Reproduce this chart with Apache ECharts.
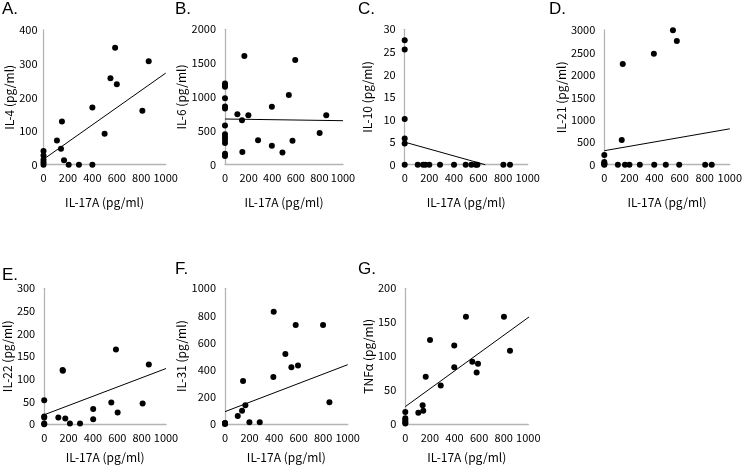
<!DOCTYPE html>
<html><head><meta charset="utf-8">
<script src="https://cdn.jsdelivr.net/npm/echarts@6/dist/echarts.min.js"></script>
<style>html,body{margin:0;padding:0;background:#fff}#c{width:745px;height:465px}</style>
</head><body><div id="c"></div>
<script>
// ---- data ----
const xTitle = 'IL-17A (pg/ml)';
const panelLetters = ['A.', 'B.', 'C.', 'D.', 'E.', 'F.', 'G.'];
const yTitles = ['IL-4 (pg/ml)', 'IL-6 (pg/ml)', 'IL-10 (pg/ml)', 'IL-21 (pg/ml)', 'IL-22 (pg/ml)', 'IL-31 (pg/ml)', 'TNFα (pg/ml)'];
const yMax = [400, 2000, 30, 3000, 300, 1000, 200];
const yStep = [100, 500, 5, 500, 50, 200, 50];

const il4X = [0, 0, 0, 0, 0, 110, 143, 151, 168, 206, 290, 400, 400, 500, 548, 586, 600, 809, 861];
const il4Y = [0, 7, 15, 27, 41, 72, 47, 128, 13, 0, 0, 170, 0, 92, 257, 347, 239, 160, 307];
const il4Trend = [[0, 16], [1000, 272]];

const il6X = [0, 0, 0, 0, 0, 0, 0, 0, 0, 0, 0, 0, 0, 105, 144, 147, 164, 198, 280, 397, 397, 487, 541, 572, 595, 802, 858];
const il6Y = [1200, 1170, 1150, 980, 860, 830, 580, 450, 410, 370, 320, 160, 130, 744, 655, 187, 1606, 729, 360, 857, 281, 182, 1030, 355, 1547, 468, 729];
const il6Trend = [[0, 675], [1000, 650]];

const il10X = [0, 0, 0, 0, 0, 0, 106, 149, 168, 200, 287, 401, 496, 542, 577, 591, 802, 856];
const il10Y = [27.6, 25.5, 10.1, 5.8, 4.7, 0, 0, 0, 0, 0, 0, 0, 0, 0, 0, 0, 0, 0];
const il10Trend = [[0, 5.0], [655, 0]];

const il21X = [0, 0, 0, 0, 0, 139, 147, 395, 547, 578, 108, 165, 200, 283, 398, 490, 597, 804, 856];
const il21Y = [216, 60, 30, 10, 0, 550, 2243, 2472, 2993, 2755, 0, 0, 0, 0, 0, 0, 0, 0, 0];
const il21Trend = [[0, 312], [1000, 799]];

const il22X = [0, 0, 0, 0, 0, 116, 151, 153, 173, 211, 294, 402, 402, 551, 589, 603, 808, 859];
const il22Y = [53, 17, 15, 2, 0, 15, 120, 118, 13, 2, 2, 34, 11, 48, 165, 26, 46, 132];
const il22Trend = [[0, 21], [1000, 123]];

const il31X = [0, 0, 0, 0, 104, 139, 147, 166, 199, 283, 394, 397, 492, 541, 576, 595, 799, 851];
const il31Y = [5, 8, 3, 0, 59, 98, 317, 138, 12, 12, 346, 828, 516, 418, 730, 432, 730, 160];
const il31Trend = [[0, 91], [1000, 437]];

const tnfX = [0, 0, 0, 0, 0, 106, 141, 146, 166, 201, 288, 398, 398, 493, 545, 580, 591, 802, 851];
const tnfY = [18, 9, 6, 3, 1, 17, 28, 20, 70, 124, 57, 116, 84, 158, 92, 76, 89, 158, 108];
const tnfTrend = [[0, 26], [1068, 166]];

const allX = [il4X, il6X, il10X, il21X, il22X, il31X, tnfX];
const allY = [il4Y, il6Y, il10Y, il21Y, il22Y, il31Y, tnfY];
const allTrend = [il4Trend, il6Trend, il10Trend, il21Trend, il22Trend, il31Trend, tnfTrend];

// ---- layout ----
const grids = [
  {left: 43.5, top: 30, width: 122.2, height: 134.7},
  {left: 225, top: 29.3, width: 118, height: 135.4},
  {left: 404.7, top: 29.3, width: 123, height: 135.4},
  {left: 604.3, top: 30, width: 127.4, height: 134.7},
  {left: 42.7, top: 288.3, width: 123.3, height: 136},
  {left: 225, top: 288.3, width: 122.7, height: 135.7},
  {left: 405.3, top: 288.3, width: 123, height: 136}
];
const yNameGap = [20, 38, 31, 36, 25, 36, 30];
const yLabelMargin = [6, 9, 9, 9, 9, 9, 9];
const xNameGap = [32, 32, 32, 32, 27, 27, 27];
const letterPos = [[2, 1], [175, 1], [358, 1], [549, 1], [2, 267], [175, 261], [358, 261]];

const FONT = '"Noto Sans CJK JP", "Noto Sans", sans-serif';
const axisLineStyle = {color: '#b4b4b4', width: 1.3};

const option = {
  animation: false,
  backgroundColor: '#fff',
  title: panelLetters.map((t, i) => ({
    text: t, left: letterPos[i][0], top: letterPos[i][1], padding: 0,
    textStyle: {fontFamily: '"Liberation Sans", Arial, sans-serif', fontSize: 17, fontWeight: 'normal', color: '#000'}
  })),
  grid: grids.map(g => Object.assign({containLabel: false}, g)),
  xAxis: grids.map((g, i) => ({
    type: 'value', gridIndex: i, min: 0, max: 1000, interval: 200,
    name: xTitle, nameLocation: 'middle', nameGap: xNameGap[i],
    nameTextStyle: {fontFamily: FONT, fontSize: 12, color: '#000'},
    axisLine: {show: true, onZero: false, lineStyle: axisLineStyle},
    axisTick: {show: false},
    splitLine: {show: false},
    axisLabel: {fontFamily: FONT, fontSize: 11, color: '#000', margin: 8,
      showMinLabel: true, showMaxLabel: true, hideOverlap: false,
      formatter: v => String(v)}
  })),
  yAxis: grids.map((g, i) => ({
    type: 'value', gridIndex: i, min: 0, max: yMax[i], interval: yStep[i],
    name: yTitles[i], nameLocation: 'middle', nameGap: yNameGap[i],
    nameTextStyle: {fontFamily: FONT, fontSize: 12, color: '#000'},
    axisLine: {show: true, onZero: false, lineStyle: axisLineStyle},
    axisTick: {show: false},
    splitLine: {show: false},
    axisLabel: {fontFamily: FONT, fontSize: 11, color: '#000', margin: yLabelMargin[i],
      showMinLabel: true, showMaxLabel: true, hideOverlap: false,
      formatter: v => String(v)}
  })),
  series: []
};

allX.forEach((xs, i) => {
  option.series.push({
    type: 'scatter', xAxisIndex: i, yAxisIndex: i,
    data: xs.map((x, k) => [x, allY[i][k]]),
    symbol: 'circle', symbolSize: 6,
    itemStyle: {color: '#000', opacity: 1},
    clip: false
  });
  option.series.push({
    type: 'line', xAxisIndex: i, yAxisIndex: i,
    data: allTrend[i], symbol: 'none', clip: false,
    lineStyle: {color: '#000', width: 1},
    z: 1
  });
});

const chart = echarts.init(document.getElementById('c'), null, {renderer: 'canvas'});
chart.setOption(option);
</script>
</body></html>
